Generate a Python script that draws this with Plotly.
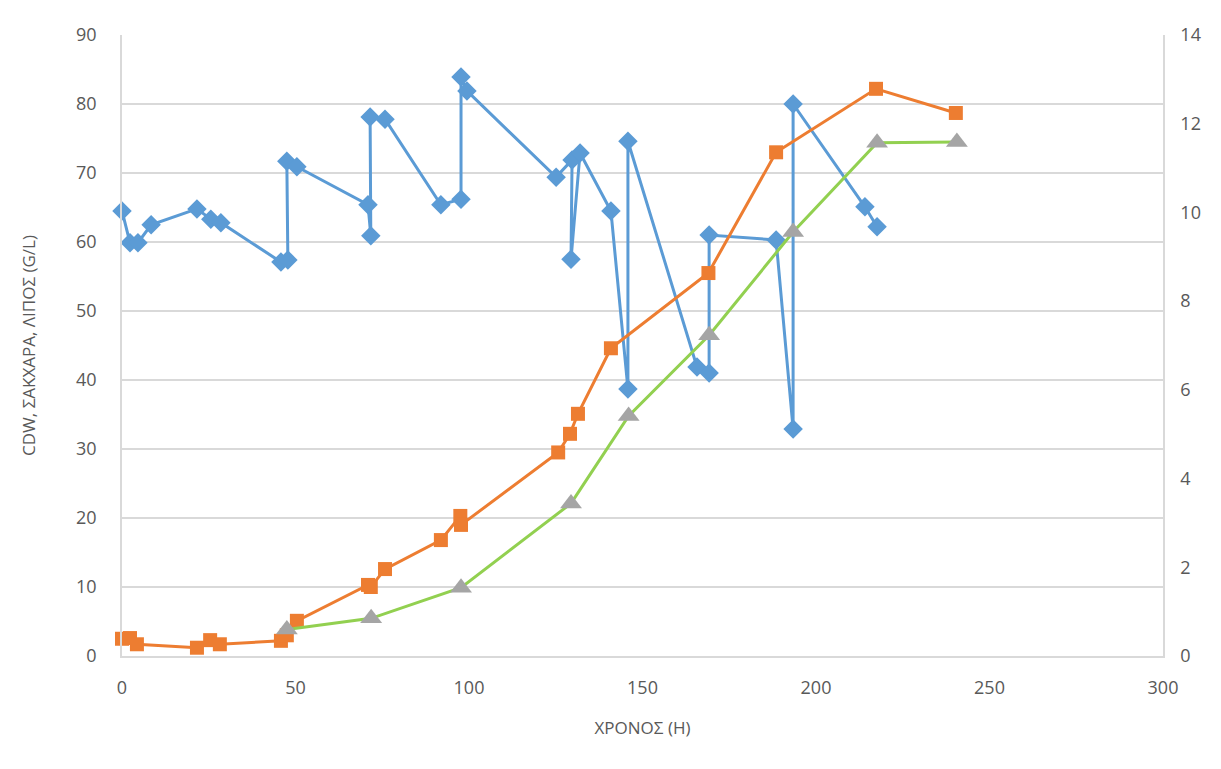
import plotly.graph_objects as go

# Sugar concentration (g/L) over fermentation time, including feeding pulses
sugar_t = [0, 2.3, 4.6, 8.4, 21.6, 25.6, 28.5, 45.8, 47.8, 47.5, 50.4, 70.9, 71.7, 71.5,
           75.8, 91.9, 97.7, 97.7, 99.4, 125.1, 129.7, 129.4, 132.0, 140.9, 145.8, 145.8,
           165.7, 169.2, 169.2, 188.5, 193.4, 193.4, 214.1, 217.6]
sugar = [64.5, 59.9, 59.9, 62.5, 64.8, 63.3, 62.8, 57.1, 57.4, 71.7, 70.9, 65.4, 60.9, 78.1,
         77.8, 65.4, 66.2, 83.9, 81.9, 69.4, 71.9, 57.5, 72.9, 64.5, 38.7, 74.6,
         41.9, 41.0, 61.0, 60.3, 32.9, 80.0, 65.1, 62.2]

# Cell dry weight (g/L)
cdw_t = [0, 2.3, 4.3, 21.6, 25.4, 28.2, 45.8, 47.5, 50.4, 70.9, 71.7, 75.8, 91.9, 97.5,
         97.7, 125.7, 129.1, 131.4, 140.9, 169.0, 188.5, 217.3, 240.3]
cdw = [2.5, 2.6, 1.7, 1.2, 2.3, 1.7, 2.2, 3.0, 5.1, 10.3, 10.0, 12.6, 16.8, 20.3,
       19.0, 29.5, 32.2, 35.1, 44.6, 55.5, 73.0, 82.2, 78.7]

# Lipid (g/L), secondary axis
lipid_t = [47.5, 71.8, 97.7, 129.4, 146.0, 169.2, 193.4, 217.6, 240.6]
lipid = [0.6, 0.85, 1.54, 3.44, 5.41, 7.23, 9.56, 11.57, 11.59]

x_ticks = [0, 50, 100, 150, 200, 250, 300]

FONT = "Open Sans"
TICK = dict(family=FONT, size=18, color="#595959")
TITLE = dict(family=FONT, size=17, color="#595959")

fig = go.Figure()

fig.add_trace(go.Scatter(
    x=sugar_t, y=sugar, mode="lines+markers", name="ΣΑΚΧΑΡΑ", cliponaxis=False,
    line=dict(color="#5B9BD5", width=3),
    marker=dict(symbol="diamond", size=15, color="#5B9BD5"),
))
fig.add_trace(go.Scatter(
    x=cdw_t, y=cdw, mode="lines+markers", name="CDW", cliponaxis=False,
    line=dict(color="#ED7D31", width=3),
    marker=dict(symbol="square", size=14, color="#ED7D31"),
))
fig.add_trace(go.Scatter(
    x=lipid_t, y=lipid, mode="lines+markers", name="ΛΙΠΟΣ", yaxis="y2", cliponaxis=False,
    line=dict(color="#92D050", width=3),
    marker=dict(symbol="triangle-up", size=19, color="#A5A5A5"),
))

fig.update_layout(
    width=1221, height=769,
    margin=dict(l=122, r=58, t=35, b=113),
    paper_bgcolor="white", plot_bgcolor="white",
    showlegend=False,
    font=dict(family=FONT, color="#595959"),
    xaxis=dict(
        range=[0, 300], tickvals=x_ticks, ticks="", tickfont=TICK,
        showgrid=False, zeroline=False,
        showline=True, linecolor="#D9D9D9", linewidth=1.5,
        ticklabelstandoff=15,
        title=dict(text="ΧΡΟΝΟΣ (Η)", font=TITLE, standoff=24),
    ),
    yaxis=dict(
        range=[0, 90], dtick=10, ticks="", tickfont=TICK,
        showgrid=True, gridcolor="#D9D9D9", gridwidth=1.5, zeroline=False,
        showline=True, linecolor="#D9D9D9", linewidth=1.5,
        ticklabelstandoff=20,
        title=dict(text="CDW, ΣΑΚΧΑΡΑ, ΛΙΠΟΣ (G/L)", font=TITLE, standoff=36),
    ),
    yaxis2=dict(
        range=[0, 14], dtick=2, ticks="", tickfont=TICK, overlaying="y", side="right",
        showgrid=False, zeroline=False,
        showline=True, linecolor="#D9D9D9", linewidth=1.5,
        ticklabelstandoff=12,
    ),
)

fig.write_html("out.html")
